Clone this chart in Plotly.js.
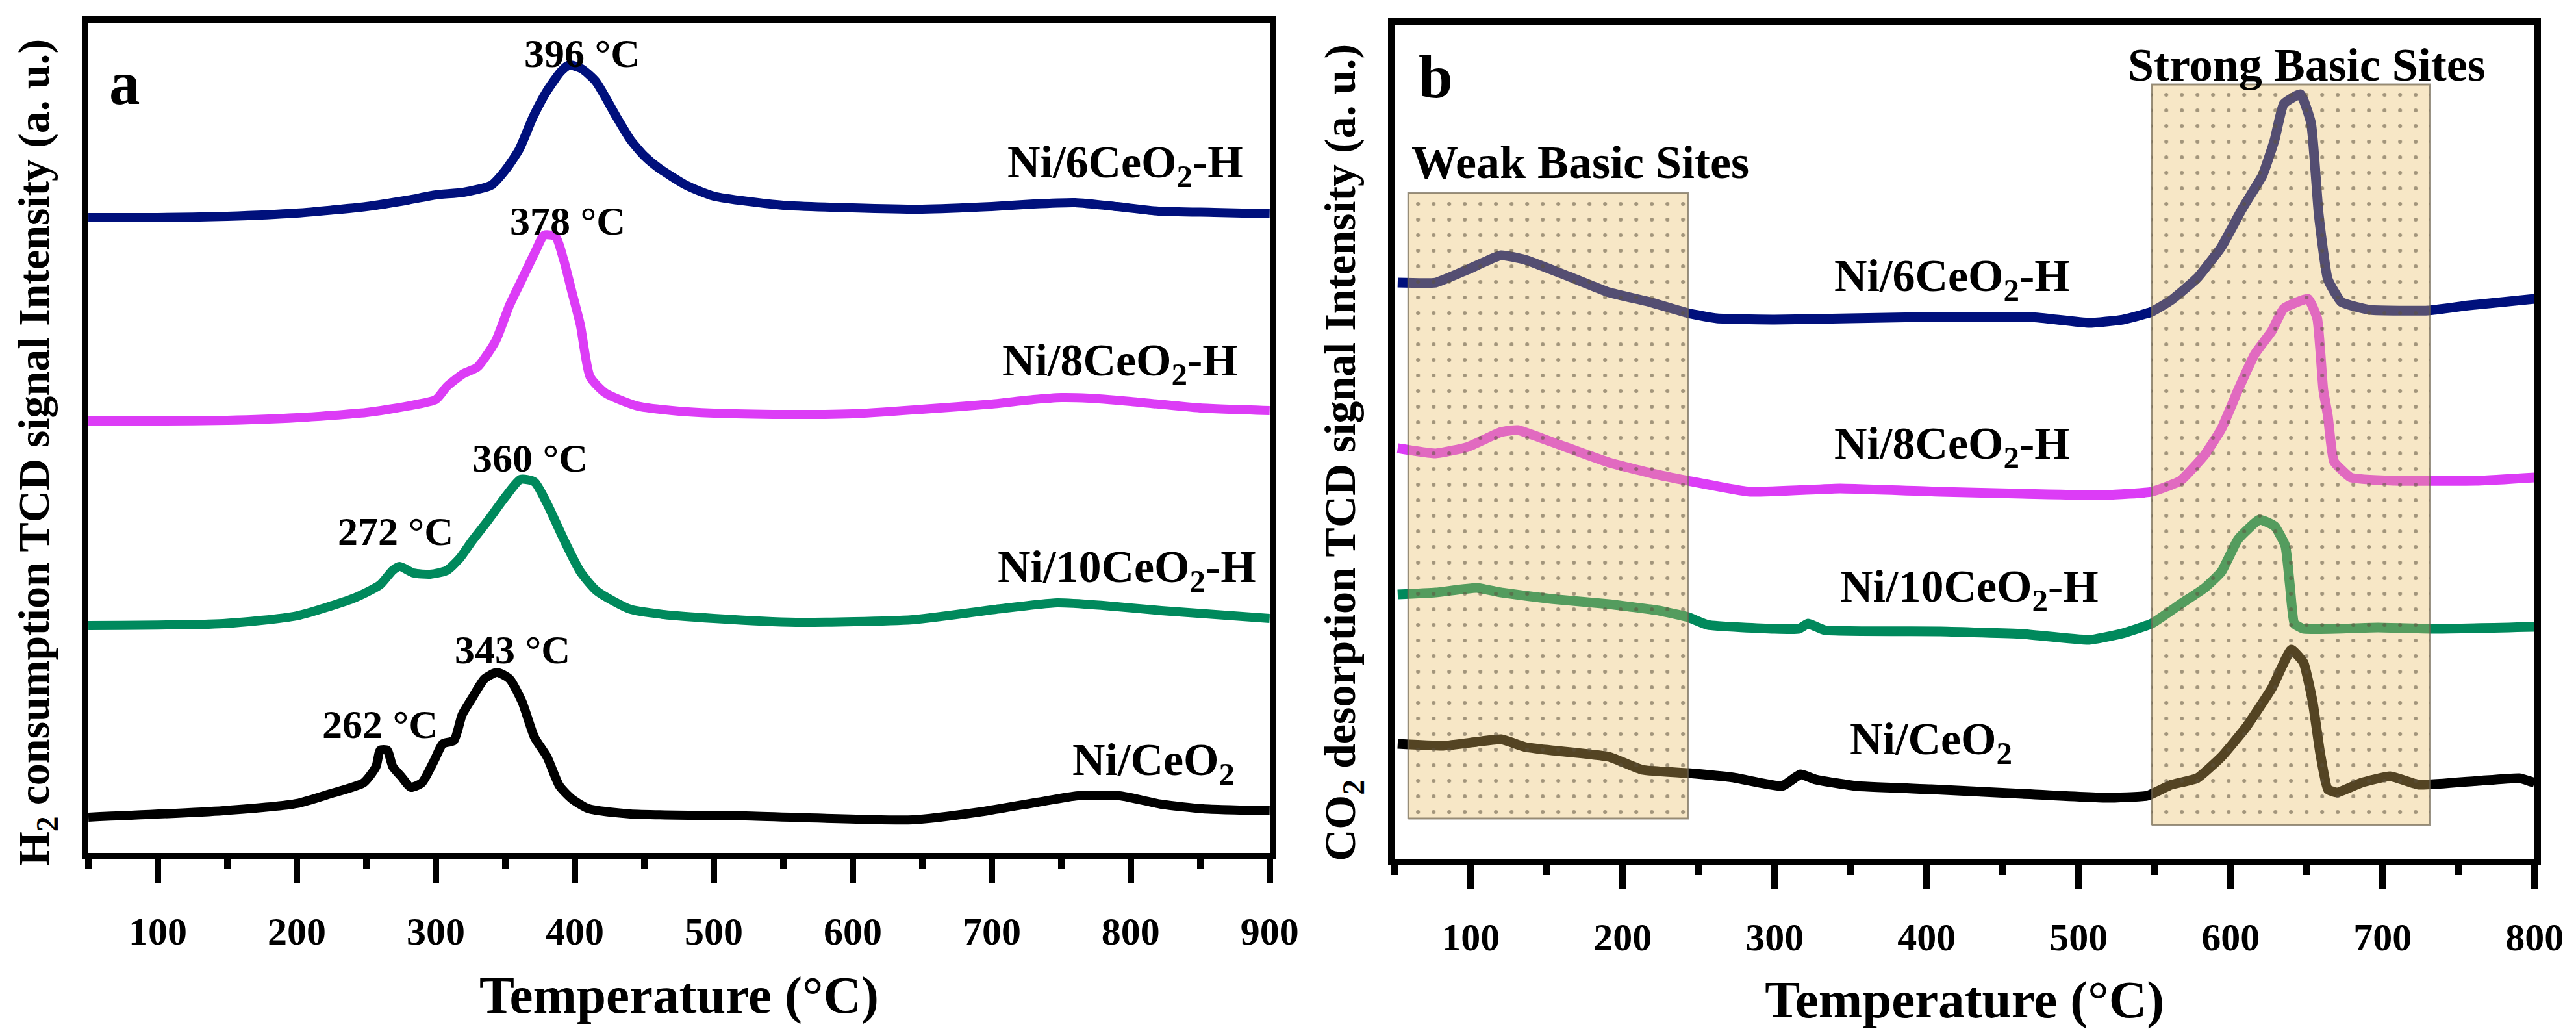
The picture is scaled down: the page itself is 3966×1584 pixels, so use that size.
<!DOCTYPE html>
<html>
<head>
<meta charset="utf-8">
<script src="https://cdn.plot.ly/plotly-3.0.1.min.js"></script>
<style>
  html, body { margin: 0; padding: 0; background: #fff; }
  #chart { width: 3966px; height: 1584px; }
</style>
</head>
<body>
<div id="chart"></div>
<script>
/** @type {typeof import("plotly.js-dist-min")} */
const Plotly = window.Plotly;

// (a) H2-TPR, intensities in a.u. (curves offset as in the figure)
const tprT6 = [50,100,150,200,250,280,300,320,340,350,360,370,380,390,396,405,415,430,440,450,460,480,500,550,600,650,700,730,760,790,820,860,900];
const tprI6 = [97.8,97.8,98.0,98.5,99.5,100.5,101.3,101.7,102.8,105.1,108.3,113.3,117.3,120.3,121.3,120.7,118.8,113.3,109.8,107.3,105.5,102.8,101.1,99.7,99.3,99.1,99.5,99.9,100.1,99.5,98.8,98.6,98.4];

const tprT8 = [50,100,150,200,250,280,300,308,320,330,343,353,362,371,378,386,392,398,404,411,422,445,470,500,550,600,650,700,730,750,770,800,850,900];
const tprI8 = [66.5,66.5,66.6,67.0,67.8,68.8,69.8,71.8,73.8,74.8,78.8,84.3,88.3,92.3,95.1,94.9,91.3,86.3,81.3,73.3,70.8,68.8,68.1,67.7,67.5,67.6,68.3,69.1,69.8,70.1,70.0,69.5,68.5,68.1];

const tprT10 = [50,147,200,242,260,269,274,284,296,308,317,326,338,350,361,371,380,392,404,416,440,464,500,559,643,703,747,780,822,900];
const tprI10 = [35.0,35.3,36.5,39.3,41.3,43.5,44.1,43.1,42.9,43.5,45.3,48.0,51.3,54.8,57.5,57.1,53.8,48.3,43.3,40.3,37.5,36.7,36.1,35.5,35.9,37.5,38.5,38.1,37.3,36.1];

const tprT0 = [50,147,200,224,248,257,260,265,269,275,282,290,299,305,313,319,326,335,344,353,362,371,380,389,398,410,440,523,643,691,733,762,792,822,852,900];
const tprI0 = [5.5,6.5,7.6,9.1,10.8,13.3,15.8,15.8,13.3,11.8,10.1,10.8,14.3,16.8,17.3,21.3,23.8,26.8,27.8,26.8,23.3,17.8,14.8,10.3,8.3,6.8,6.0,5.7,5.1,6.3,7.8,8.8,8.8,7.5,6.8,6.5];

// (b) CO2-TPD
const tpdT6 = [52,77,98,120,136,164,191,218,243,262,300,398,469,507,529,548,561,578,594,608,621,629,635,646,653,658,664,673,692,730,757,800];
const tpdI6 = [88.7,88.7,90.7,92.9,92.2,89.7,87.2,85.7,84.0,83.2,83.0,83.4,83.4,82.5,83.0,84.2,86.0,89.4,94.2,100.2,105.2,110.7,116.2,117.7,113.2,99.2,89.2,85.7,84.5,84.4,85.2,86.2];

const tpdT8 = [52,77,98,120,131,153,191,218,243,284,343,409,463,518,548,567,583,594,605,616,627,635,651,657,661,664,668,679,708,763,800];
const tpdI8 = [63.2,62.4,63.4,65.7,66.0,64.2,61.0,59.4,58.2,56.5,57.0,56.5,56.2,56.0,56.5,58.2,62.2,66.2,72.2,77.7,81.2,84.7,86.2,83.2,72.2,68.2,61.2,58.7,58.2,58.2,58.7];

const tpdT10 = [52,77,104,120,153,191,224,243,256,300,316,322,333,409,463,507,529,548,567,583,594,605,619,629,636,639,642,648,697,736,800];
const tpdI10 = [40.7,41.0,41.7,41.0,40.0,39.2,38.2,37.2,36.0,35.4,35.4,36.2,35.2,35.0,34.6,33.7,34.7,36.2,39.2,41.7,44.2,49.2,52.2,51.2,48.2,42.2,36.2,35.4,35.6,35.4,35.7];

const tpdT0 = [52,82,104,120,136,153,191,213,243,273,305,317,327,354,403,463,518,545,561,578,594,610,627,640,648,654,659,664,670,686,705,724,763,790,800];
const tpdI0 = [17.7,17.4,18.0,18.4,17.2,16.7,15.7,13.7,13.2,12.5,11.2,13.0,12.2,11.2,10.7,10.0,9.4,9.7,11.4,12.4,15.7,20.2,26.2,32.2,30.2,24.2,16.2,10.7,10.2,11.7,12.7,11.4,12.0,12.4,11.7];

// shaded regions of panel b: [T start, T end, bottom, top]
const weakSites = [59, 243, 6.2, 102.5];
const strongSites = [548, 731, 5.2, 119.2];

const sampleNames = ["Ni/6CeO<sub>2</sub>-H", "Ni/8CeO<sub>2</sub>-H", "Ni/10CeO<sub>2</sub>-H", "Ni/CeO<sub>2</sub>"];
const sampleColors = ["#00107c", "#dc3cf6", "#00895c", "#000000"];

// where the names sit in each panel
const tprNameT = [882, 878, 891, 876];
const tprNameI = [105.8, 75.3, 43.5, 13.8];
const tpdNameT = [417, 417, 428, 403];
const tpdNameI = [89.2, 63.4, 41.4, 17.9];

const peakLabels = ["396 °C", "378 °C", "360 °C", "272 °C", "343 °C", "262 °C"];
const peakT = [405, 395, 368, 271, 355, 260];
const peakI = [123.1, 97.3, 60.8, 49.5, 31.3, 19.8];

const fontFamily = "Liberation Serif, Times New Roman, serif";

const tprData = [[tprT6, tprI6], [tprT8, tprI8], [tprT10, tprI10], [tprT0, tprI0]];
const tpdData = [[tpdT6, tpdI6], [tpdT8, tpdI8], [tpdT10, tpdI10], [tpdT0, tpdI0]];

const traces = [];
tprData.forEach((d, i) => {
    traces.push({
        x: d[0], y: d[1], xaxis: "x", yaxis: "y",
        mode: "lines", type: "scatter",
        line: { color: sampleColors[i], width: 14, shape: "spline", smoothing: 0.6 },
        hoverinfo: "skip"
    });
});
tpdData.forEach((d, i) => {
    traces.push({
        x: d[0], y: d[1], xaxis: "x2", yaxis: "y2",
        mode: "lines", type: "scatter",
        line: { color: sampleColors[i], width: 15, shape: "spline", smoothing: 0.4 },
        hoverinfo: "skip"
    });
});

// translucent dotted boxes go over the curves
function siteBox(b) {
    return {
        x: [b[0], b[1], b[1], b[0], b[0]],
        y: [b[2], b[2], b[3], b[3], b[2]],
        xaxis: "x2", yaxis: "y2",
        mode: "lines", type: "scatter",
        fill: "toself",
        fillcolor: "rgba(232,189,98,0.36)",
        fillpattern: {
            shape: ".",
            bgcolor: "rgba(232,189,98,0.36)",
            fgcolor: "rgb(90,80,60)",
            fgopacity: 0.55,
            size: 24,
            solidity: 0.05
        },
        line: { color: "rgba(110,100,80,0.7)", width: 3 },
        hoverinfo: "skip"
    };
}
traces.push(siteBox(weakSites));
traces.push(siteBox(strongSites));

const annotations = [];
sampleNames.forEach((n, i) => {
    annotations.push({
        xref: "x", yref: "y", x: tprNameT[i], y: tprNameI[i],
        text: n, showarrow: false, xanchor: "right", yanchor: "middle",
        font: { size: 70, family: fontFamily, weight: "bold", color: "#000" }
    });
    annotations.push({
        xref: "x2", yref: "y2", x: tpdNameT[i], y: tpdNameI[i],
        text: n, showarrow: false, xanchor: "center", yanchor: "middle",
        font: { size: 70, family: fontFamily, weight: "bold", color: "#000" }
    });
});
peakLabels.forEach((t, i) => {
    annotations.push({
        xref: "x", yref: "y", x: peakT[i], y: peakI[i],
        text: t, showarrow: false, xanchor: "center", yanchor: "middle",
        font: { size: 62, family: fontFamily, weight: "bold", color: "#000" }
    });
});
annotations.push(
    { xref: "x", yref: "y", x: 76, y: 118.5, text: "a", showarrow: false,
      xanchor: "center", yanchor: "middle",
      font: { size: 95, family: fontFamily, weight: "bold", color: "#000" } },
    { xref: "x2", yref: "y2", x: 77, y: 120.4, text: "b", showarrow: false,
      xanchor: "center", yanchor: "middle",
      font: { size: 95, family: fontFamily, weight: "bold", color: "#000" } },
    { xref: "x2", yref: "y2", x: 172, y: 107.2, text: "Weak Basic Sites", showarrow: false,
      xanchor: "center", yanchor: "middle",
      font: { size: 72, family: fontFamily, weight: "bold", color: "#000" } },
    { xref: "x2", yref: "y2", x: 650, y: 122.2, text: "Strong Basic Sites", showarrow: false,
      xanchor: "center", yanchor: "middle",
      font: { size: 72, family: fontFamily, weight: "bold", color: "#000" } },
    { xref: "paper", yref: "paper", x: 0.0144, y: 0.56, textangle: -90,
      xanchor: "center", yanchor: "middle",
      text: "H<sub>2</sub> consumption TCD signal Intensity (a. u.)", showarrow: false,
      font: { size: 68, family: fontFamily, weight: "bold", color: "#000" } },
    { xref: "paper", yref: "paper", x: 0.5214, y: 0.56, textangle: -90,
      xanchor: "center", yanchor: "middle",
      text: "CO<sub>2</sub> desorption TCD signal Intensity (a. u.)", showarrow: false,
      font: { size: 68, family: fontFamily, weight: "bold", color: "#000" } }
);

function tempAxis(domain, range) {
    return {
        domain: domain, range: range,
        showline: true, linewidth: 10, linecolor: "#000", mirror: true,
        showgrid: false, zeroline: false,
        ticks: "outside", ticklen: 37, tickwidth: 10, tickcolor: "#000",
        tick0: 0, dtick: 100,
        minor: { ticks: "outside", dtick: 50, tick0: 0, ticklen: 15, tickwidth: 10, tickcolor: "#000", showgrid: false },
        ticklabelstandoff: 22,
        tickfont: { size: 60, family: fontFamily, weight: "bold", color: "#000" },
        title: { text: "Temperature (°C)", standoff: 40,
                 font: { size: 81, family: fontFamily, weight: "bold", color: "#000" } }
    };
}
function signalAxis(domain, range, anchor) {
    return {
        domain: domain, range: range, anchor: anchor,
        showline: true, linewidth: 10, linecolor: "#000", mirror: true,
        showgrid: false, zeroline: false, showticklabels: false, ticks: ""
    };
}

const layout = {
    width: 3966, height: 1584,
    margin: { l: 0, r: 0, t: 0, b: 0 },
    paper_bgcolor: "#fff", plot_bgcolor: "#fff",
    showlegend: false,
    font: { family: fontFamily, color: "#000" },
    xaxis: Object.assign(tempAxis([0.0343, 0.4929], [50, 900]), { anchor: "y" }),
    yaxis: signalAxis([0.1711, 0.9779], [0, 127.8], "x"),
    xaxis2: Object.assign(tempAxis([0.5414, 0.9839], [50, 800]), { anchor: "y2" }),
    yaxis2: signalAxis([0.1654, 0.976], [0, 128.4], "x2"),
    annotations: annotations
};

Plotly.newPlot("chart", traces, layout, { displayModeBar: false, staticPlot: true });
</script>
</body>
</html>
